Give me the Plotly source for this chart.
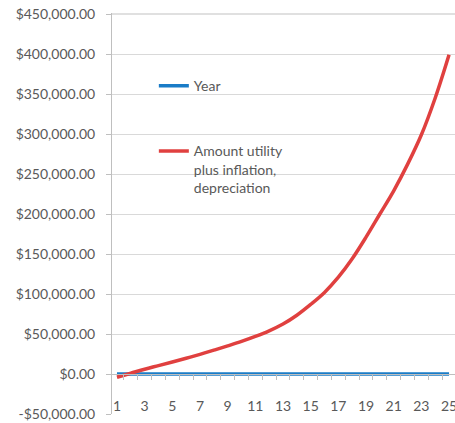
import plotly.graph_objects as go

years = list(range(1, 26))
year_values = list(range(1, 26))
amount_values = [-4000, 1000, 6000, 10500, 15000, 19700, 24600, 29800, 35200, 40800,
                 47000, 54000, 62500, 73500, 87000, 102000, 121000, 144000, 171000,
                 200000, 229000, 262000, 299000, 345000, 399000]
x_tick_vals = list(range(1, 26, 2))
y_tick_vals = list(range(-50000, 450001, 50000))
y_tick_text = [("-$" if v < 0 else "$") + f"{abs(v):,.2f}" for v in y_tick_vals]

FONT = "Lato"
TXT = "#595959"
GRID = "#d9d9d9"

fig = go.Figure()
fig.add_trace(go.Scatter(x=years, y=year_values, mode="lines", name="Year",
                         line=dict(color="#1a7cc7", width=3.5), legend="legend",
                         showlegend=True))
fig.add_trace(go.Scatter(x=years, y=amount_values, mode="lines",
                         name="Amount utility<br>plus inflation,<br>depreciation",
                         line=dict(color="#e0403f", width=3.5, shape="spline"),
                         legend="legend2", showlegend=True))

# top gridline (plotly drops the one at the edge)
fig.add_shape(type="line", xref="paper", x0=0, x1=1, yref="y",
              y0=max(y_tick_vals), y1=max(y_tick_vals),
              line=dict(color="#e0e0e0", width=2), layer="below")

fig.update_layout(
    width=455, height=423,
    showlegend=True,
    margin=dict(l=112, r=0, t=13, b=9, autoexpand=False),
    paper_bgcolor="white", plot_bgcolor="white",
    font=dict(family=FONT, size=14, color=TXT),
    legend=dict(x=0.122, y=0.8175, xanchor="left", yanchor="middle",
                bgcolor="rgba(0,0,0,0)", font=dict(family=FONT, size=14, color=TXT),
                itemwidth=30),
    legend2=dict(x=0.122, y=0.61, xanchor="left", yanchor="middle", valign="top",
                 bgcolor="rgba(0,0,0,0)", font=dict(family=FONT, size=14, color=TXT),
                 itemwidth=30),
    xaxis=dict(range=[0.64, 25.43], tickmode="array", tickvals=x_tick_vals,
               ticktext=[str(v) for v in x_tick_vals], automargin=False,
               anchor="free", position=0.1, showline=True, linecolor="#bfbfbf",
               ticks="", showgrid=False, zeroline=False, ticklabelstandoff=19,
               ticklabeloverflow="allow",
               minor=dict(tick0=0.5, dtick=1, ticks="outside", ticklen=5,
                          tickcolor="#bfbfbf", showgrid=False),
               tickfont=dict(family=FONT, size=14, color=TXT)),
    yaxis=dict(range=[-50000, 451250], tickmode="array", tickvals=y_tick_vals,
               ticktext=y_tick_text, showgrid=True, gridcolor=GRID, gridwidth=1,
               showline=True, linecolor="#bfbfbf", ticks="outside", ticklen=5,
               tickcolor="#bfbfbf", zeroline=False, automargin=False,
               ticklabelstandoff=8, ticklabeloverflow="allow",
               tickfont=dict(family=FONT, size=14, color=TXT)),
)

fig.write_html("out.html", config={"displayModeBar": False},
               post_script="document.body.style.margin='0';")
